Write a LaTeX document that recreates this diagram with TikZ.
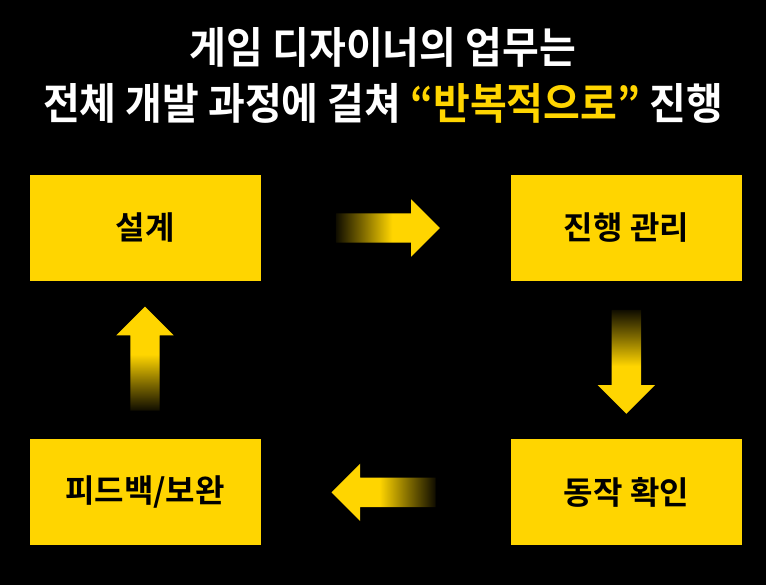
\documentclass[tikz,border=0pt]{standalone}
\usepackage{fontspec}
\setmainfont{Noto Sans CJK KR}[BoldFont={* Bold}]
\newfontfamily\headfont{Noto Sans CJK KR Bold}[FakeStretch=0.93]
\usetikzlibrary{positioning,calc,shapes.arrows}
\definecolor{kyellow}{HTML}{FFD500}
\pgfdeclarehorizontalshading{fadearrow}{100bp}{color(0bp)=(kyellow!6!black); color(25bp)=(kyellow!6!black);
  color(38bp)=(kyellow!50!black); color(52bp)=(kyellow); color(100bp)=(kyellow)}
\tikzset{
  headline/.style = {text=white, font=\fontsize{43}{50}\headfont, inner sep=0pt},
  box/.style      = {fill=kyellow, minimum width=231pt, minimum height=106pt,
                     align=center, font=\fontsize{32}{38}\selectfont\bfseries},
  farrow/.style   = {single arrow, shading=fadearrow, inner sep=0pt, text width=29pt,
                     text height=14.5pt, text depth=14.5pt, minimum height=104pt,
                     single arrow head extend=14pt, single arrow tip angle=90, anchor=tail}
}
\begin{document}
\begin{tikzpicture}[x=1pt, y=1pt, node distance=250pt]
  \fill[black] (0,0) rectangle (766,585);
  \node[headline] (line1) at (383,538) {게임 디자이너의 업무는};
  \node[headline] (line2) at (383,482) {전체 개발 과정에 걸쳐 \textcolor{kyellow}{“반복적으로”} 진행};
  % the four steps
  \node[box] (design) at (145,357) {설계};
  \node[box, right=of design] (manage) {진행 관리};
  \node[box, below=158pt of manage] (check) {동작 확인};
  \node[box, left=of check] (feedback) {피드백/보완};
  % fading arrows between the steps
  \node[farrow, shape border rotate=0, shading angle=0] (a1) at ($(design.east)!0.3!(manage.west)$) {};
  \node[farrow, shape border rotate=270, shading angle=-90] (a2) at ($(manage.south)!0.18!(check.north)$) {};
  \node[farrow, shape border rotate=180, shading angle=180] (a3) at ($(check.west)!0.3!(feedback.east)$) {};
  \node[farrow, shape border rotate=90, shading angle=90] (a4) at ($(feedback.north)!0.18!(design.south)$) {};
\end{tikzpicture}
\end{document}
